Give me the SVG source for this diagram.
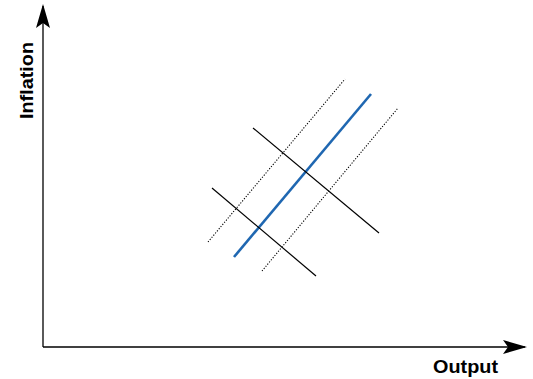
<svg xmlns="http://www.w3.org/2000/svg" width="533" height="379" viewBox="0 0 533 379">
<style>
.axis{stroke:#000;stroke-width:1.3;fill:none}
.lbl{font-family:"Liberation Sans",Arial,sans-serif;font-weight:bold;font-size:18px;fill:#000}
.solid{stroke:#000;stroke-width:1.2}
.dot{stroke:#000;stroke-width:1.1;stroke-dasharray:1.2 1.6}
.blue{stroke:#1f67b1;stroke-width:2.6}
</style>
<defs>
<marker id="ah" viewBox="0 0 24 14" refX="22" refY="7" markerWidth="24" markerHeight="14" markerUnits="userSpaceOnUse" orient="auto">
<path d="M0,0 L24,7 L0,14 L5,7 Z" fill="#000"/>
</marker>
</defs>
<g id="axes">
<path class="axis" d="M43,347 V6" marker-end="url(#ah)"/>
<path class="axis" d="M43,347 H525" marker-end="url(#ah)"/>
</g>
<g id="label-inflation"><text class="lbl" transform="translate(33,119) rotate(-90)" textLength="77" lengthAdjust="spacingAndGlyphs">Inflation</text></g>
<g id="label-output"><text class="lbl" x="433" y="373" textLength="65" lengthAdjust="spacingAndGlyphs">Output</text></g>
<g id="connectors">
<line class="dot" x1="208" y1="242" x2="345" y2="79"/>
<line class="dot" x1="262" y1="271" x2="398" y2="108"/>
<line class="blue" x1="234" y1="257" x2="371" y2="94"/>
<line class="solid" x1="253" y1="128" x2="379" y2="233"/>
<line class="solid" x1="212" y1="188" x2="316" y2="276"/>
</g>
</svg>
